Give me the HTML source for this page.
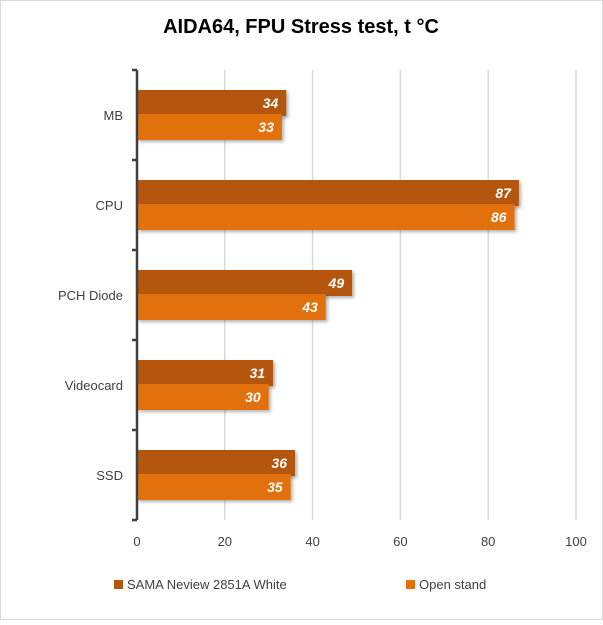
<!DOCTYPE html>
<html><head><meta charset="utf-8"><style>
body{margin:0;background:#fff;font-family:"Liberation Sans",sans-serif}
svg text{font-family:"Liberation Sans",sans-serif}
</style></head><body>
<svg width="603" height="620" viewBox="0 0 603 620">
<defs><filter id="sh" x="-5%" y="-20%" width="115%" height="160%"><feDropShadow dx="2" dy="2" stdDeviation="1.5" flood-color="#000" flood-opacity="0.3"/></filter></defs>
<rect x="0.5" y="0.5" width="602" height="619" fill="#fff" stroke="#d9d9d9"/>
<text x="301" y="33" text-anchor="middle" font-size="20" font-weight="bold" fill="#000">AIDA64, FPU Stress test, t °C</text>
<g id="grid"></g><g id="bars"></g><g id="axis"></g>
<g>
<rect x="114" y="580" width="9" height="9" fill="#b4570a"/>
<text x="127" y="589" font-size="13" fill="#404040">SAMA Neview 2851A White</text>
<rect x="406" y="580" width="9" height="9" fill="#e2700c"/>
<text x="419" y="589" font-size="13" fill="#404040">Open stand</text>
</g>
</svg>
<script>
const categories=["MB","CPU","PCH Diode","Videocard","SSD"];
const samaValues=[34,87,49,31,36];
const openValues=[33,86,43,30,35];
const ticks=[0,20,40,60,80,100];
const NS="http://www.w3.org/2000/svg";
const x0=137,x1=576,yTop=70,yBot=520;
const xs=v=>x0+(v/100)*(x1-x0);
const band=(yBot-yTop)/categories.length;
function mk(t,a,p){const e=document.createElementNS(NS,t);for(const k in a)e.setAttribute(k,a[k]);p.appendChild(e);return e;}
const grid=document.getElementById('grid'),bars=document.getElementById('bars'),axis=document.getElementById('axis');
ticks.forEach(t=>{
  if(t>0){const l=mk('line',{x1:xs(t),x2:xs(t),y1:yTop,y2:yBot,stroke:'#d9d9d9','stroke-width':1.5},grid);
  
  }
  const tx=mk('text',{x:xs(t),y:546,'text-anchor':'middle','font-size':13,fill:'#404040'},axis);tx.textContent=t;
  
  
});
const al=mk('line',{x1:x0,x2:x0,y1:yTop,y2:yBot,stroke:'#404040','stroke-width':2.5},axis);


for(let i=0;i<=categories.length;i++){
  const tk=mk('line',{x1:x0-5,x2:x0,y1:yTop+i*band,y2:yTop+i*band,stroke:'#404040','stroke-width':2.5},axis);
  
  
}
categories.forEach((c,i)=>{
  const yc=yTop+band*i+band/2;
  const lab=mk('text',{x:123,y:yc+5,'text-anchor':'end','font-size':13,fill:'#404040'},axis);lab.textContent=c;
  
  
  [[samaValues[i],'#b4570a',yc-25,'sama'],[openValues[i],'#e2700c',yc-1,'open']].forEach(([v,col,y,s])=>{
    const r=mk('rect',{x:x0,y:y,width:xs(v)-x0,height:26,fill:col,filter:'url(#sh)'},bars);
    
    
    const t=mk('text',{x:xs(v)-8,y:y+18,'text-anchor':'end','font-size':14,'font-weight':'bold','font-style':'italic',fill:'#fff'},bars);t.textContent=v;
    
    
  });
});
</script>
</body></html>
